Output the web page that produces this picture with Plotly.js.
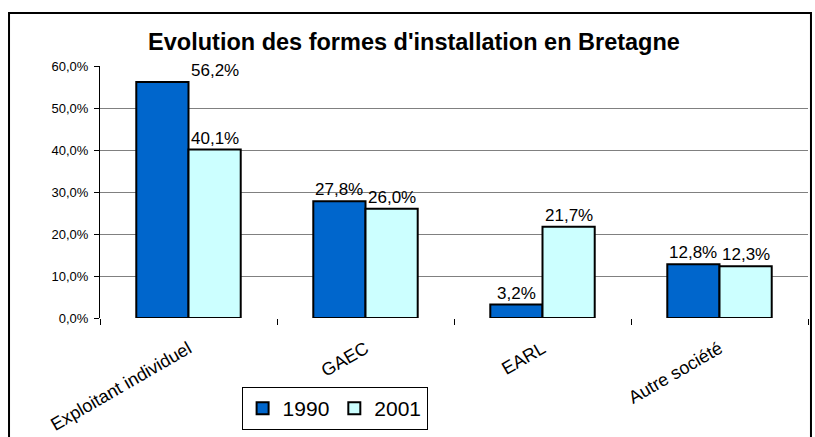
<!DOCTYPE html>
<html>
<head>
<meta charset="utf-8">
<script src="https://cdn.plot.ly/plotly-3.0.1.min.js"></script>
<style>
  html, body { margin: 0; padding: 0; background: #ffffff; }
  #chart { width: 815px; height: 437px; }
</style>
</head>
<body>
<div id="chart"></div>
<script>
const categories = ["Exploitant individuel", "GAEC", "EARL", "Autre société"];
const values1990 = [56.2, 27.8, 3.2, 12.8];
const values2001 = [40.1, 26.0, 21.7, 12.3];
const seriesNames = ["1990", "2001"];
const yTicks = [0, 10, 20, 30, 40, 50, 60];

const FONT = "Liberation Sans, Arial, sans-serif";
const bargap = 0.41;
const half = (1 - bargap) / 4; // offset of each bar center from category center

function fmt(v) { return v.toFixed(1).replace('.', ',') + '%'; }

const traces = [
  {
    type: 'bar', name: seriesNames[0], x: categories, y: values1990,
    marker: { color: '#0066CC', line: { color: '#000000', width: 2 } },
    hoverinfo: 'none'
  },
  {
    type: 'bar', name: seriesNames[1], x: categories, y: values2001,
    marker: { color: '#CCFFFF', line: { color: '#000000', width: 2 } },
    hoverinfo: 'none'
  }
];

const annotations = [];
[values1990, values2001].forEach((vals, s) => {
  vals.forEach((v, i) => {
    let x = i + (s === 0 ? -half : half);
    let xanchor = 'center';
    // label that would exceed the plot top is moved beside its bar
    if (v > 52) { x = i; xanchor = 'left'; }
    annotations.push({
      x: x, y: v, xref: 'x', yref: 'y', text: fmt(v), showarrow: false,
      xanchor: xanchor, yanchor: 'bottom', yshift: 0,
      font: { family: FONT, size: 17, color: '#000000' }
    });
  });
});

const layout = {
  width: 815, height: 437,
  margin: { l: 100, r: 7, t: 66, b: 119, pad: 0 },
  paper_bgcolor: '#ffffff', plot_bgcolor: '#ffffff',
  separators: ', ',
  barmode: 'group', bargap: bargap, bargroupgap: 0,
  showlegend: true,
  title: {
    text: "<b>Evolution des formes d'installation en Bretagne</b>",
    font: { family: FONT, size: 23.5, color: '#000000' },
    xref: 'paper', x: 0.4435, xanchor: 'center',
    yref: 'container', y: 0.904, yanchor: 'middle'
  },
  xaxis: {
    type: 'category',
    tickangle: -30,
    tickfont: { family: FONT, size: 18, color: '#000000' },
    ticks: 'outside', tickson: 'boundaries', ticklen: 6, tickcolor: '#000000', tickwidth: 1,
    ticklabelstandoff: 16,
    showline: false, showgrid: false, zeroline: false,
    range: [-0.5, 3.5]
  },
  yaxis: {
    range: [0, 60],
    tickvals: yTicks,
    ticktext: yTicks.map(fmt),
    tickfont: { family: FONT, size: 13, color: '#000000' },
    ticks: 'outside', ticklen: 5, tickcolor: '#000000', tickwidth: 1,
    ticklabelstandoff: 3,
    showline: true, linecolor: '#000000', linewidth: 1,
    showgrid: true, gridcolor: '#808080', gridwidth: 1,
    zeroline: false, fixedrange: true
  },
  legend: {
    orientation: 'h',
    x: 0.2, xanchor: 'left', y: -0.274, yanchor: 'top',
    font: { family: FONT, size: 21, color: '#000000' },
    bgcolor: '#ffffff', bordercolor: '#000000', borderwidth: 1,
    itemwidth: 30, traceorder: 'normal'
  },
  annotations: annotations,
  shapes: [
    { type: 'rect', xref: 'paper', yref: 'paper',
      x0: -0.1285, x1: 1.0042, y0: -0.484, y1: 1.2103,
      line: { color: '#000000', width: 2 }, fillcolor: 'rgba(0,0,0,0)', layer: 'below' }
  ]
};

Plotly.newPlot('chart', traces, layout, { displayModeBar: false, staticPlot: true });
</script>
</body>
</html>
